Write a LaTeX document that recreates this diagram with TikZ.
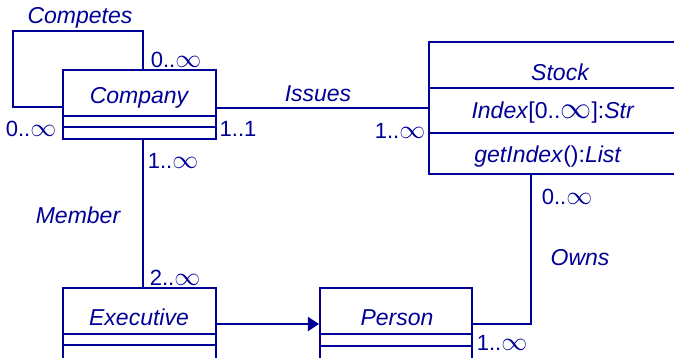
\documentclass[tikz,border=0pt]{standalone}
\usepackage{fontspec}
\usepackage{graphicx}
\setmainfont{Liberation Sans}
\usetikzlibrary{arrows.meta}
\definecolor{umlblue}{RGB}{0,0,150}
\newcommand{\myinf}{\scalebox{1.25}{$\infty$}}
\tikzset{
  cls/.style={draw=umlblue, line width=2.1pt, rectangle, inner sep=0pt},
  conn/.style={draw=umlblue, line width=2.1pt},
  clsname/.style={text=umlblue, font=\fontsize{23}{23}\selectfont\itshape, inner sep=0pt},
  mult/.style={text=umlblue, font=\fontsize{22}{22}\selectfont, inner sep=0pt},
  txt/.style={text=umlblue, font=\fontsize{23}{23}\selectfont, inner sep=0pt},
}
\begin{document}
\begin{tikzpicture}[x=1pt,y=-1pt]
\clip (0,0) rectangle (674,357);
% boxes
\node[cls, minimum width=153pt, minimum height=69pt] (company) at (139.5,104.5) {};
\node[cls, minimum width=261pt, minimum height=132pt] (stock) at (559.5,108) {};
\node[cls, minimum width=153pt, minimum height=72pt] (executive) at (139.5,324) {};
\node[cls, minimum width=152pt, minimum height=72pt] (person) at (396,324) {};
% compartments
\draw[conn] (63,116) -- (216,116) (63,127) -- (216,127);
\draw[conn] (429,88) -- (690,88) (429,133) -- (690,133);
\draw[conn] (63,334) -- (216,334) (63,345) -- (216,345);
\draw[conn] (320,334) -- (472,334) (320,346) -- (472,346);
% class texts
\node[clsname] (tcompany) at (139,98) {Company};
\node[clsname] (tstock) at (560,72) {Stock};
\node[txt] (tindex) at (553,113) {\textit{Index}[0..\myinf]:\textit{Str}};
\node[txt] (tget) at (548,157) {\textit{getIndex}():\textit{List}};
\node[clsname] (texec) at (139,317) {Executive};
\node[clsname] (tperson) at (397,318) {Person};
% connectors
\coordinate (c1) at (143,31);
\coordinate (c2) at (13,31);
\coordinate (c3) at (13,107);
\draw[conn] ([xshift=3.5pt]company.north) -- (c1) -- (c2) -- (c3) -- (c3 -| company.west);
\draw[conn] (stock.west) -- (stock.west -| company.east);
\draw[conn] ([xshift=3.5pt]company.south) -- ([xshift=3.5pt]executive.north);
\draw[conn, -{Triangle[length=11pt,width=14pt]}] (executive.east) -- (person.west);
\coordinate (o1) at (531,324);
\draw[conn] (person.east) -- (o1) -- (o1 |- stock.south);
% labels
\node[clsname] (lcompetes) at (80,18) {Competes};
\node[clsname] (lissues) at (318,94) {Issues};
\node[clsname] (lmember) at (78,215) {Member};
\node[clsname] (lowns) at (580,258) {Owns};
\node[mult] (m1) at (176,60) {0..\myinf};
\node[mult] (m2) at (31,129) {0..\myinf};
\node[mult] (m3) at (238,129) {1..1};
\node[mult] (m4) at (173,161) {1..\myinf};
\node[mult] (m5) at (400,131) {1..\myinf};
\node[mult] (m6) at (567,197) {0..\myinf};
\node[mult] (m7) at (175,278) {2..\myinf};
\node[mult] (m8) at (502,343) {1..\myinf};
\end{tikzpicture}
\end{document}
